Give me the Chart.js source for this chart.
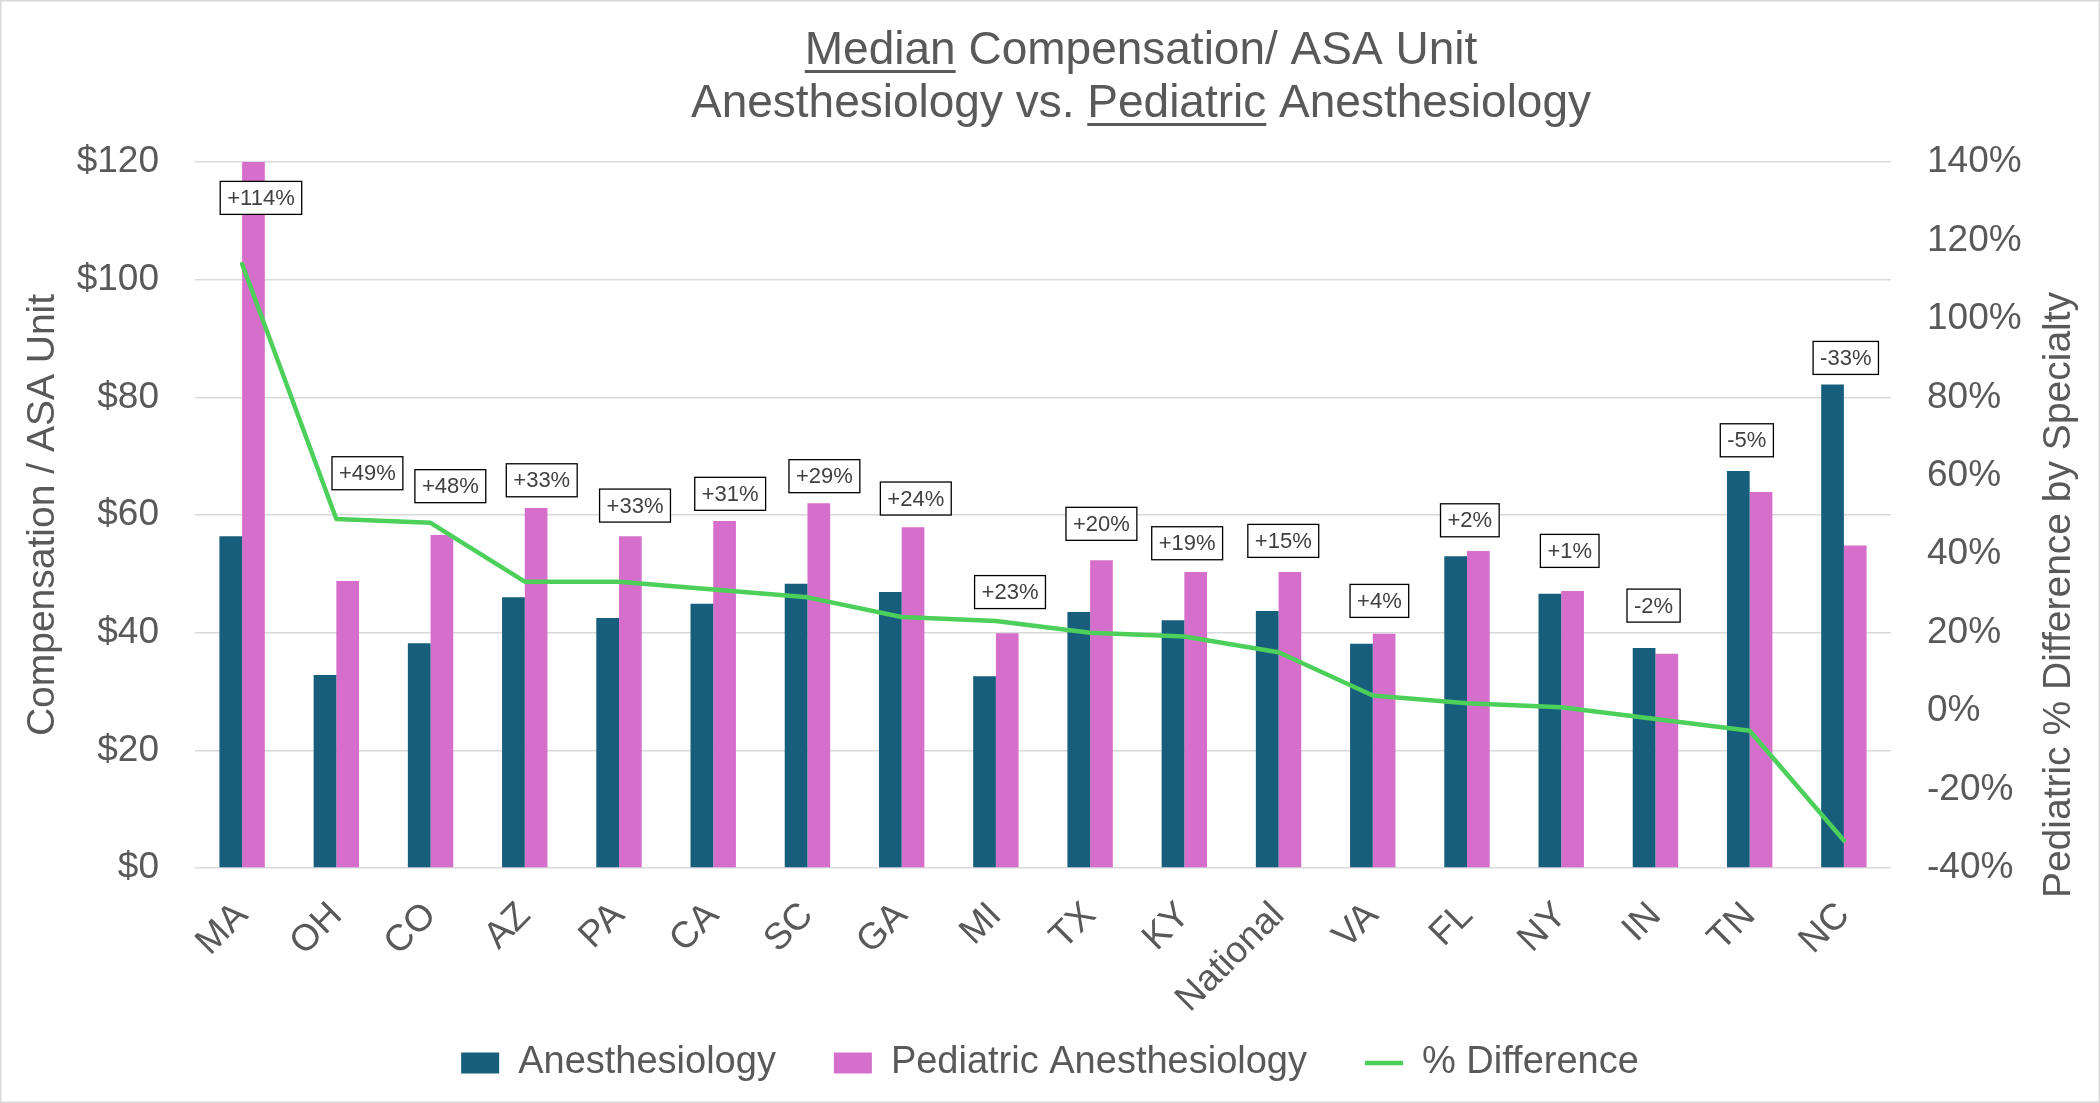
<!DOCTYPE html>
<html><head><meta charset="utf-8">
<script src="https://cdn.jsdelivr.net/npm/chart.js@4.4.1/dist/chart.umd.min.js"></script>
<style>html,body{margin:0;padding:0;background:#fff;overflow:hidden;} #wrap{width:2100px;height:1103px;position:relative;}</style>
</head><body><div id="wrap"><canvas id="c" width="2100" height="1103"></canvas></div>
<script>
// ---- data ----
const categories = ['MA','OH','CO','AZ','PA','CA','SC','GA','MI','TX','KY','National','VA','FL','NY','IN','TN','NC'];
const anesthesiology = [56.4,32.8,38.2,46.0,42.5,44.9,48.3,46.9,32.6,43.5,42.1,43.7,38.1,53.0,46.6,37.4,67.5,82.2];
const pediatricAnesthesiology = [120.6,48.8,56.6,61.2,56.4,59.0,62.0,57.9,39.9,52.3,50.3,50.3,39.8,53.9,47.1,36.4,63.9,54.8];
const pctDifference = [114,49,48,33,33,31,29,24,23,20,19,15,4,2,1,-2,-5,-33];
const leftTickValues = [0,20,40,60,80,100,120];
const rightTickValues = [-40,-20,0,20,40,60,80,100,120,140];
// label placement: x shift in fraction of a category, y centre in $ units
const labelShift = [0.20,0.33,0.21,0.18,0.17,0.18,0.18,0.15,0.15,0.12,0.03,0.05,0.07,0.03,0.09,-0.02,-0.03,0.02];
const labelAt = [113.9,67.1,64.9,65.9,61.6,63.6,66.6,62.8,46.9,58.5,55.2,55.6,45.4,59.1,53.9,44.6,72.7,86.7];

const FONT = '"Liberation Sans", Arial, Helvetica, sans-serif';
const GREY = '#595959';
Chart.defaults.font.family = FONT;
Chart.defaults.color = GREY;

const noClipPlugin = {
  id: 'noClipX',
  beforeDraw(chart) {
    const xs = chart.scales.x;
    if (xs) { xs._computeLabelArea = () => undefined; }
  }
};

const titlePlugin = {
  id: 'ulTitle',
  afterDraw(chart) {
    const ctx = chart.ctx;
    ctx.save();
    ctx.font = '46px ' + FONT;
    ctx.fillStyle = GREY;
    ctx.strokeStyle = GREY;
    ctx.textBaseline = 'alphabetic';
    ctx.textAlign = 'left';
    const cx = 1141;
    const lines = [
      {text: 'Median Compensation/ ASA Unit', ul: 'Median', pre: '', y: 64},
      {text: 'Anesthesiology vs. Pediatric Anesthesiology', ul: 'Pediatric', pre: 'Anesthesiology vs. ', y: 117}
    ];
    lines.forEach(l => {
      const w = ctx.measureText(l.text).width;
      const x0 = cx - w / 2;
      ctx.fillText(l.text, x0, l.y);
      const ux = x0 + ctx.measureText(l.pre).width;
      const uw = ctx.measureText(l.ul).width;
      ctx.fillRect(ux, l.y + 6, uw, 3);
    });
    // right axis title (reads bottom to top)
    ctx.save();
    ctx.translate(2059, 595);
    ctx.rotate(-Math.PI / 2);
    ctx.font = '39px ' + FONT;
    ctx.textAlign = 'center';
    ctx.textBaseline = 'middle';
    ctx.fillText('Pediatric % Difference by Specialty', 0, 0);
    ctx.restore();
    // outer border
    ctx.strokeStyle = '#D9D9D9';
    ctx.lineWidth = 1.5;
    ctx.strokeRect(0.75, 0.75, chart.width - 1.5, chart.height - 1.5);
    ctx.restore();
  }
};

const labelPlugin = {
  id: 'diffLabels',
  afterDatasetsDraw(chart) {
    const ctx = chart.ctx;
    const xs = chart.scales.x, ys = chart.scales.y;
    const cat = (xs.getPixelForValue(1) - xs.getPixelForValue(0));
    ctx.save();
    ctx.font = '22px ' + FONT;
    ctx.textAlign = 'center';
    ctx.textBaseline = 'middle';
    pctDifference.forEach((v, i) => {
      const txt = (v > 0 ? '+' : '') + v + '%';
      const x = xs.getPixelForValue(i) + labelShift[i] * cat;
      const y = ys.getPixelForValue(labelAt[i]);
      const w = ctx.measureText(txt).width + 14;
      const h = 33;
      ctx.fillStyle = '#FFFFFF';
      ctx.fillRect(x - w / 2, y - h / 2, w, h);
      ctx.strokeStyle = '#000000';
      ctx.lineWidth = 1.3;
      ctx.strokeRect(x - w / 2, y - h / 2, w, h);
      ctx.fillStyle = '#404040';
      ctx.fillText(txt, x, y + 1);
    });
    ctx.restore();
  }
};

new Chart(document.getElementById('c'), {
  type: 'bar',
  data: {
    labels: categories,
    datasets: [
      {label: 'Anesthesiology', data: anesthesiology, backgroundColor: '#175E7D', borderWidth: 0,
       categoryPercentage: 0.482, barPercentage: 1.0, yAxisID: 'y', order: 2, pointStyle: 'rect'},
      {label: 'Pediatric Anesthesiology', data: pediatricAnesthesiology, backgroundColor: '#D66FCC', borderWidth: 0,
       categoryPercentage: 0.482, barPercentage: 1.0, yAxisID: 'y', order: 3, pointStyle: 'rect'},
      {type: 'line', label: '% Difference', data: pctDifference, borderColor: '#4CD05A', backgroundColor: '#4CD05A',
       borderWidth: 4.5, pointRadius: 0, pointHoverRadius: 0, tension: 0, yAxisID: 'y2', order: 1,
       pointStyle: 'line', borderJoinStyle: 'round', borderCapStyle: 'round'}
    ]
  },
  options: {
    responsive: false,
    animation: false,
    devicePixelRatio: 1,
    layout: {padding: {top: 162, bottom: 11, left: 0, right: 0}},
    plugins: {
      title: {display: false},
      tooltip: {enabled: false},
      legend: {
        position: 'bottom',
        labels: {
          usePointStyle: true, pointStyleWidth: 38, boxHeight: 21,
          font: {size: 38}, color: GREY, padding: 58,
          sort: (a, b) => a.datasetIndex - b.datasetIndex
        }
      }
    },
    scales: {
      x: {
        grid: {display: false},
        border: {display: false},
        ticks: {font: {size: 37}, color: GREY, minRotation: 45, maxRotation: 45, autoSkip: false, padding: 18},
        afterFit: s => { s.height = 118; }
      },
      y: {
        position: 'left', min: 0, max: 120,
        afterBuildTicks: s => { s.ticks = leftTickValues.map(v => ({value: v})); },
        ticks: {font: {size: 37}, color: GREY, padding: 36, callback: v => '$' + v},
        grid: {color: '#D9D9D9', lineWidth: 1.5, drawTicks: false},
        border: {display: false},
        title: {display: true, text: 'Compensation / ASA Unit', font: {size: 39}, color: GREY, padding: {top: 20, bottom: 0}},
        afterFit: s => { s.width = 195; }
      },
      y2: {
        position: 'right', min: -40, max: 140,
        afterBuildTicks: s => { s.ticks = rightTickValues.map(v => ({value: v})); },
        ticks: {font: {size: 37}, color: GREY, padding: 36, callback: v => v + '%'},
        grid: {display: false, drawTicks: false},
        border: {display: false},
        afterFit: s => { s.width = 209; }
      }
    }
  },
  plugins: [noClipPlugin, labelPlugin, titlePlugin]
});
</script>
</body></html>
